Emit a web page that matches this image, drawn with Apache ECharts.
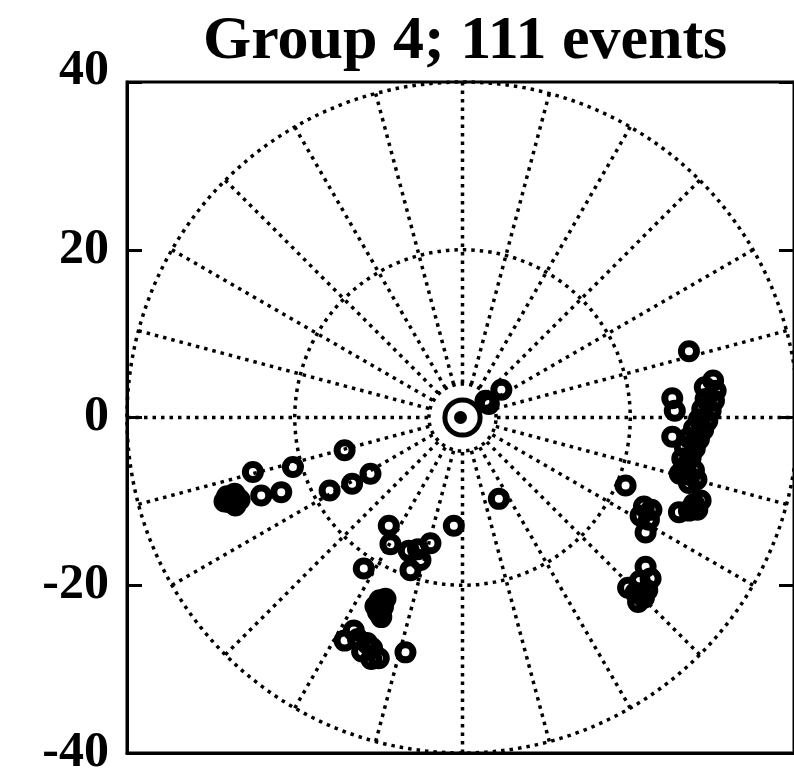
<!DOCTYPE html>
<html>
<head>
<meta charset="utf-8">
<script src="https://cdn.jsdelivr.net/npm/echarts@6/dist/echarts.min.js"></script>
<style>
  html, body { margin: 0; padding: 0; background: #fff; }
  #chart { width: 794px; height: 781px; }
</style>
</head>
<body>
<div id="chart"></div>
<script>
// Event positions (x, y) grouped by the cluster they belong to
const nearCentre = [[3.0, 2.0], [3.4, 1.6], [4.9, 3.3], [4.6, -9.7]];
const eastArc = [
  [27.4, 7.9], [25.4, 2.3], [25.7, 0.8], [25.4, -2.3],
  [30.3, 4.4], [30.6, 3.2], [30.4, 2.0], [30.0, 0.8], [29.6, -0.4], [29.1, -1.5],
  [28.6, -2.6], [28.1, -3.7], [27.6, -4.8], [27.0, -5.8], [26.3, -6.7],
  [29.3, 3.6], [29.4, 2.2], [29.0, 1.0], [28.6, -0.2], [28.0, -1.3], [27.4, -2.4],
  [26.9, -3.5], [27.0, -6.8], [28.0, -6.3], [28.3, -7.4], [27.4, -7.8], [26.6, -4.9]
];
const southEast = [
  [19.8, -8.1],
  [22.0, -10.6], [22.9, -11.0], [21.6, -11.7], [22.6, -12.2], [22.2, -13.7],
  [26.2, -11.3], [28.0, -10.3], [28.8, -9.9], [27.4, -11.1], [28.4, -11.0],
  [22.2, -17.8], [22.8, -19.2], [22.4, -20.6], [21.0, -20.9], [20.1, -20.3],
  [21.5, -19.5], [21.3, -22.0], [22.0, -21.5]
];
const westBand = [
  [-13.9, -3.9], [-20.1, -5.9], [-24.9, -6.5], [-23.9, -9.3], [-21.5, -8.9],
  [-15.7, -8.7], [-13.0, -7.9], [-10.8, -6.7],
  [-28.0, -9.4], [-27.1, -9.1], [-26.5, -9.8], [-27.7, -10.1], [-28.3, -10.0], [-27.0, -10.5]
];
const southWest = [
  [-0.8, -12.9], [-8.6, -12.9], [-8.4, -15.1],
  [-6.2, -15.9], [-4.8, -17.0], [-6.0, -18.2], [-3.6, -15.0], [-5.1, -15.7], [-11.6, -18.0],
  [-9.7, -21.8], [-9.3, -22.6], [-9.9, -23.2], [-9.0, -21.6], [-10.2, -22.5], [-9.5, -23.8],
  [-12.8, -25.4], [-13.9, -26.6], [-11.8, -27.9], [-10.6, -27.5], [-9.8, -28.7],
  [-11.2, -26.9], [-10.7, -28.8], [-12.3, -26.4], [-6.6, -28.0]
];
const origin = [[0, 0]];

const titleText = 'Group 4; 111 events';
const axisMin = -40, axisMax = 40, axisStep = 20;
const outerRadius = 40, midRadius = 20, innerRadius = 4, hubRadius = 2.1;
const spokeStep = 15;

// Plot box in pixels (right edge runs just past the canvas)
const box = { left: 127, top: 82, size: 671 };
const pxPerUnit = box.size / (axisMax - axisMin);
const cx = box.left + box.size / 2;
const cy = box.top + box.size / 2;

const serif = '"Liberation Serif", "DejaVu Serif", serif';
const dotted = { color: '#000', width: 3.5, type: [3.5, 5] };

const chart = echarts.init(document.getElementById('chart'), null, { renderer: 'canvas' });

const ringPolar = (r, inner) => ({
  center: [cx, cy],
  radius: inner ? [inner * pxPerUnit, r * pxPerUnit] : r * pxPerUnit
});
const polarAngle = (idx, style, spokes) => ({
  polarIndex: idx, type: 'value', min: 0, max: 360, interval: spokeStep,
  startAngle: 90, silent: true,
  axisLine: { show: true, lineStyle: style },
  axisTick: { show: false }, axisLabel: { show: false },
  splitLine: { show: spokes, lineStyle: dotted }
});
const polarRadius = (idx) => ({
  polarIndex: idx, type: 'value', min: 0, max: 1, silent: true,
  axisLine: { show: false }, axisTick: { show: false },
  axisLabel: { show: false }, splitLine: { show: false }
});

// Open circles: heavy ring (~22 px outside) with a small hole
const scatterStyle = {
  type: 'scatter', xAxisIndex: 0, yAxisIndex: 0,
  symbol: 'circle', symbolSize: 15, z: 5,
  itemStyle: { color: 'rgba(0,0,0,0)', borderColor: '#000', borderWidth: 7, opacity: 1 },
  emphasis: { disabled: true }, silent: true
};

const labelFont = { fontFamily: serif, fontWeight: 'bold', fontSize: 50, color: '#000' };

chart.setOption({
  animation: false,
  backgroundColor: '#fff',
  title: {
    text: titleText, left: 198, top: 6,
    textStyle: { fontFamily: serif, fontWeight: 'bold', fontSize: 62, color: '#000' }
  },
  grid: {
    left: box.left, top: box.top, width: box.size, height: box.size,
    show: true, borderColor: '#000', borderWidth: 3, backgroundColor: 'rgba(0,0,0,0)', z: 10
  },
  xAxis: [{
    type: 'value', min: axisMin, max: axisMax, interval: axisStep, position: 'bottom',
    axisLine: { show: true, onZero: false, lineStyle: { color: '#000', width: 3 } },
    axisTick: { show: false },
    axisLabel: { show: false }, splitLine: { show: false }
  }],
  yAxis: [{
    type: 'value', min: axisMin, max: axisMax, interval: axisStep, position: 'left',
    axisLine: { show: true, onZero: false, lineStyle: { color: '#000', width: 3 } },
    axisTick: { show: true, inside: true, length: 15, lineStyle: { color: '#000', width: 3 } },
    axisLabel: Object.assign({
      show: true, margin: 18,
      formatter: v => (v === axisMax ? '{top|' + v + '}' : String(v)),
      rich: { top: Object.assign({ padding: [0, 0, 22, 0] }, labelFont) }
    }, labelFont),
    splitLine: { show: false }
  }, {
    type: 'value', min: axisMin, max: axisMax, interval: axisStep, position: 'right',
    axisLine: { show: true, onZero: false, lineStyle: { color: '#000', width: 3 } },
    axisTick: { show: true, inside: true, length: 15, lineStyle: { color: '#000', width: 3 } },
    axisLabel: { show: false }, splitLine: { show: false }
  }],
  polar: [
    ringPolar(outerRadius, innerRadius),
    ringPolar(midRadius),
    ringPolar(hubRadius)
  ],
  angleAxis: [
    polarAngle(0, dotted, true),
    polarAngle(1, dotted, false),
    polarAngle(2, { color: '#000', width: 5, type: 'solid' }, false)
  ],
  radiusAxis: [polarRadius(0), polarRadius(1), polarRadius(2)],
  series: [
    Object.assign({ name: 'near centre', data: nearCentre }, scatterStyle),
    Object.assign({ name: 'east arc', data: eastArc }, scatterStyle),
    Object.assign({ name: 'south-east', data: southEast }, scatterStyle),
    Object.assign({ name: 'west band', data: westBand }, scatterStyle),
    Object.assign({ name: 'south-west', data: southWest }, scatterStyle),
    {
      name: 'origin', type: 'scatter', data: origin, symbol: 'circle', symbolSize: 13, z: 5,
      itemStyle: { color: '#000', opacity: 1 }, silent: true
    }
  ]
});
</script>
</body>
</html>
